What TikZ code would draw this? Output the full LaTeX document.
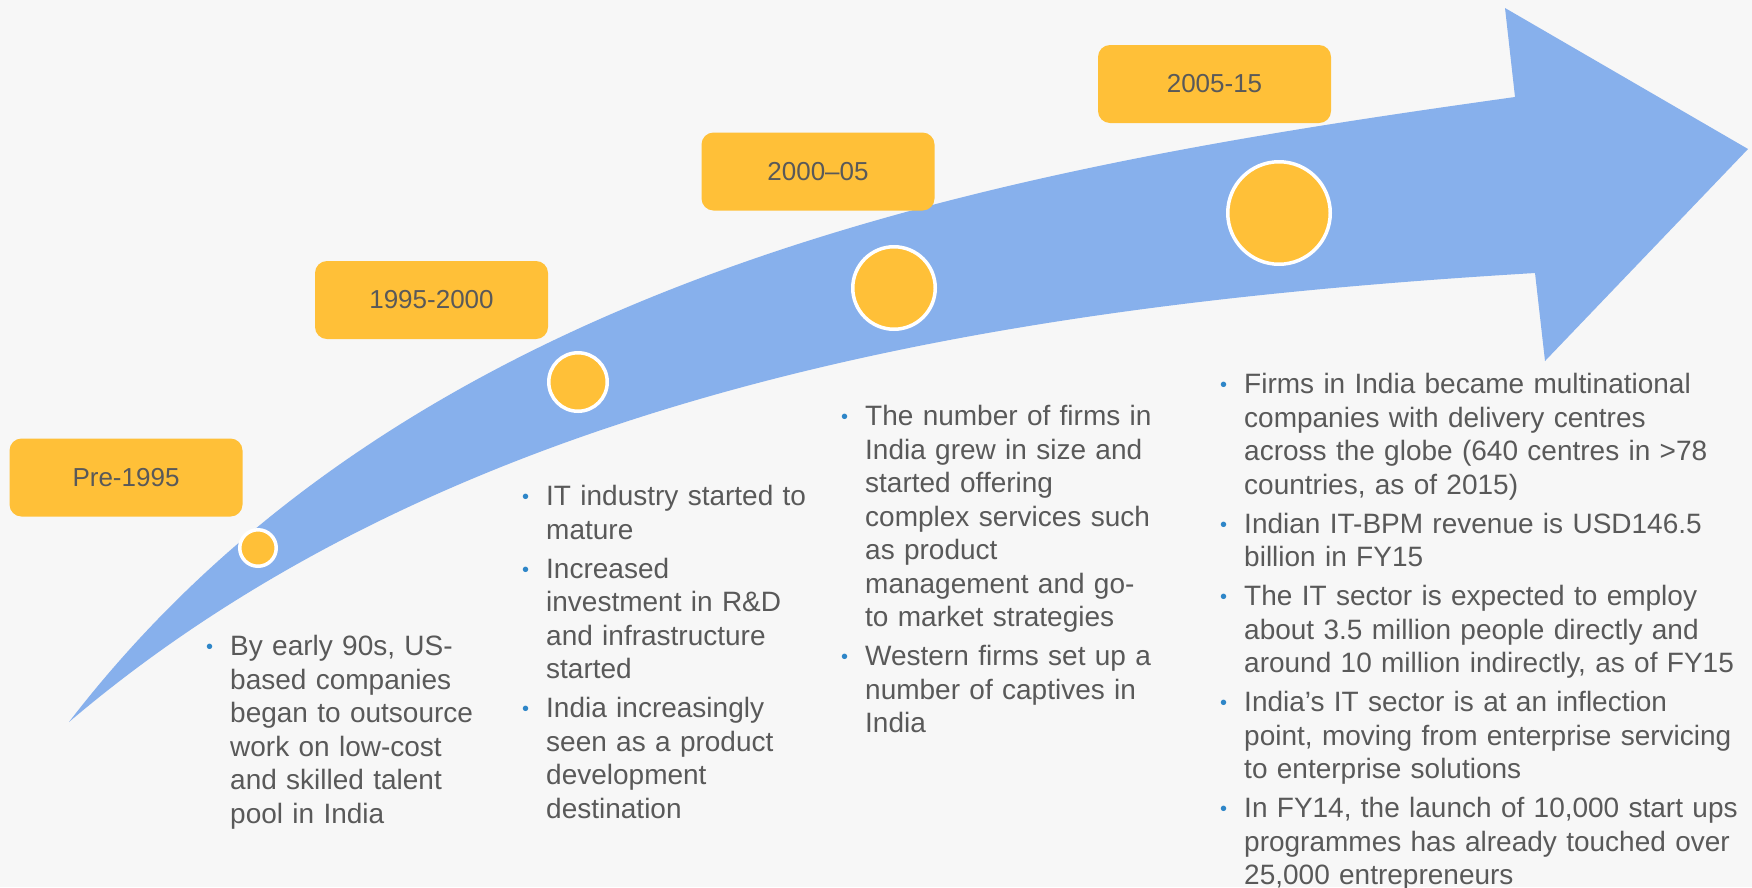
\documentclass[tikz,border=0pt]{standalone}
\usepackage{fontspec}
\setmainfont{Liberation Sans}
\definecolor{bgc}{RGB}{247,247,247}
\definecolor{arrowc}{RGB}{135,176,236}
\definecolor{orangec}{RGB}{255,192,56}
\definecolor{txtc}{RGB}{89,89,89}
\definecolor{bulc}{RGB}{46,134,200}
\newcommand\bitem[1]{\par\noindent\makebox[24pt][l]{\raisebox{2pt}{\textcolor{bulc}{\fontsize{20}{20}\selectfont •}}}\parbox[t]{520pt}{\strut #1\strut}\par}
\tikzset{
  yearbox/.style={fill=orangec, rounded corners=12pt, minimum width=233pt, minimum height=78pt, inner sep=0pt, text=txtc, font=\fontsize{26}{30}\selectfont},
  dot/.style={circle, fill=orangec, draw=white, line width=3.5pt, inner sep=0pt},
  txtblock/.style={anchor=north west, inner sep=0pt, text width=560pt, text=txtc, font=\fontsize{28}{33.5}\selectfont\setlength\parskip{5.5pt}\setlength\lineskip{0pt}\setlength\lineskiplimit{0pt}}
}
\begin{document}
\begin{tikzpicture}[x=1pt, y=-1pt]
\useasboundingbox (0,0) rectangle (1752,887);
\fill[bgc] (0,0) rectangle (1752,887);
% arrow
\fill[arrowc] (69,722) .. controls (419,267) and (1015,167) .. (1515,97) -- (1505,8) -- (1748,149) -- (1545,361) -- (1535,273) .. controls (1035,303) and (469,382) .. (69,722) -- cycle;
% dots
\node[dot, minimum size=36.5pt] (d1) at (258,548) {};
\node[dot, minimum size=58.5pt] (d2) at (578,382) {};
\node[dot, minimum size=82.5pt] (d3) at (894,288) {};
\node[dot, minimum size=102.5pt] (d4) at (1279,213) {};
% year boxes
\node[yearbox] (y1) at (126,477.5) {Pre-1995};
\node[yearbox] (y2) at (431.5,300) {1995-2000};
\node[yearbox] (y3) at (818,171.5) {2000–05};
\node[yearbox] (y4) at (1214.5,84) {2005-15};
% text blocks
\node[txtblock] (t1) at (206,616.5) {%
\bitem{By early 90s, US-\newline based companies\newline began to outsource\newline work on low-cost\newline and skilled talent\newline pool in India}};
\node[txtblock] (t2) at (522,466.5) {%
\bitem{IT industry started to\newline mature}
\bitem{Increased\newline investment in R\&D\newline and infrastructure\newline started}
\bitem{India increasingly\newline seen as a product\newline development\newline destination}};
\node[txtblock] (t3) at (841,386.5) {%
\bitem{The number of firms in\newline India grew in size and\newline started offering\newline complex services such\newline as product\newline management and go-\newline to market strategies}
\bitem{Western firms set up a\newline number of captives in\newline India}};
\node[txtblock] (t4) at (1220,354.5) {%
\bitem{Firms in India became multinational\newline companies with delivery centres\newline across the globe (640 centres in >78\newline countries, as of 2015)}
\bitem{Indian IT-BPM revenue is USD146.5\newline billion in FY15}
\bitem{The IT sector is expected to employ\newline about 3.5 million people directly and\newline around 10 million indirectly, as of FY15}
\bitem{India’s IT sector is at an inflection\newline point, moving from enterprise servicing\newline to enterprise solutions}
\bitem{In FY14, the launch of 10,000 start ups\newline programmes has already touched over\newline 25,000 entrepreneurs}};
\end{tikzpicture}
\end{document}
